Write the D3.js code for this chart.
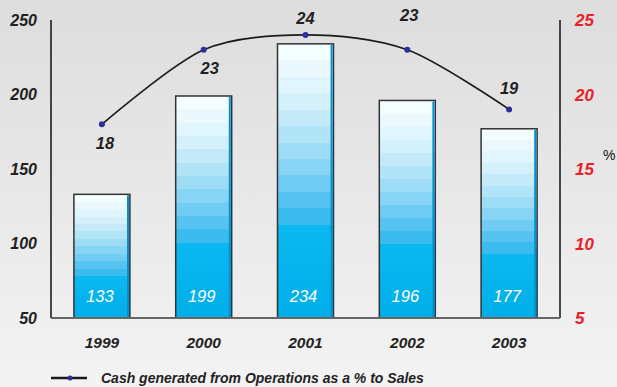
<!DOCTYPE html>
<html>
<head>
<meta charset="utf-8">
<script src="https://cdn.jsdelivr.net/npm/d3@7"></script>
<style>
  body { margin: 0; background: #e8e8e8; }
  svg { display: block; font-family: "Liberation Sans", Arial, sans-serif; }
</style>
</head>
<body>
<div id="chart"></div>
<script>
var years = ["1999", "2000", "2001", "2002", "2003"];
var cashValues = [133, 199, 234, 196, 177];
var pctValues = [18, 23, 24, 23, 19];
var leftTicks = [50, 100, 150, 200, 250];
var rightTicks = [5, 10, 15, 20, 25];
var legendText = "Cash generated from Operations as a % to Sales";

var W = 617, H = 387;
var margin = { top: 20, right: 57, bottom: 69, left: 51 },
    width = W - margin.left - margin.right,
    height = H - margin.top - margin.bottom;

var svg = d3.select("#chart").append("svg")
    .attr("width", W)
    .attr("height", H);

var defs = svg.append("defs");

// page background
var bg = defs.append("linearGradient")
    .attr("id", "bg")
    .attr("x1", 0).attr("y1", 0).attr("x2", 0).attr("y2", 1);
bg.append("stop").attr("offset", 0).attr("stop-color", "#dddddd");
bg.append("stop").attr("offset", 1).attr("stop-color", "#f3f3f3");

svg.append("rect")
    .attr("width", W)
    .attr("height", H)
    .attr("fill", "url(#bg)");

// stepped blue bar fill
var steps = ["#f4fdff", "#ebf9fe", "#e0f5fd", "#d3f0fb", "#c4eafa", "#b2e4f8",
             "#9edcf6", "#88d4f4", "#70ccf2", "#56c3f0", "#3cbcee"];
var barGrad = defs.append("linearGradient")
    .attr("id", "barFill")
    .attr("x1", 0).attr("y1", 0).attr("x2", 0).attr("y2", 1);
var solidStart = 0.66;
steps.forEach(function(c, i) {
    var a = i / steps.length * solidStart,
        b = (i + 1) / steps.length * solidStart;
    barGrad.append("stop").attr("offset", a).attr("stop-color", c);
    barGrad.append("stop").attr("offset", b).attr("stop-color", c);
});
barGrad.append("stop").attr("offset", solidStart).attr("stop-color", "#0bb8ef");
barGrad.append("stop").attr("offset", 1).attr("stop-color", "#00aee9");

var g = svg.append("g")
    .attr("transform", "translate(" + margin.left + "," + margin.top + ")");

// scales
var x = d3.scaleBand()
    .domain(years)
    .range([0, width])
    .paddingInner(0.45)
    .paddingOuter(0.225);

var y = d3.scaleLinear().domain([50, 250]).range([height, 0]);
var y2 = d3.scaleLinear().domain([5, 25]).range([height, 0]);

// bars
var bars = g.selectAll(".bar")
    .data(cashValues)
    .enter().append("g")
    .attr("class", "bar");

bars.append("rect")
    .attr("x", function(d, i) { return x(years[i]); })
    .attr("y", function(d) { return y(d); })
    .attr("width", x.bandwidth())
    .attr("height", function(d) { return height - y(d); })
    .attr("fill", "url(#barFill)")
    .attr("stroke", "#333")
    .attr("stroke-width", 1.5);

// blue edge on the right side of each bar
bars.append("line")
    .attr("x1", function(d, i) { return x(years[i]) + x.bandwidth() - 1.9; })
    .attr("x2", function(d, i) { return x(years[i]) + x.bandwidth() - 1.9; })
    .attr("y1", function(d) { return y(d) + 1; })
    .attr("y2", height)
    .attr("stroke", "#0092d6")
    .attr("stroke-width", 2);

bars.append("text")
    .attr("x", function(d, i) { return x(years[i]) + x.bandwidth() / 2 - 2; })
    .attr("y", height - 16)
    .attr("text-anchor", "middle")
    .attr("fill", "#fff")
    .style("font-size", "16.5px")
    .style("font-style", "italic")
    .text(function(d) { return d; });

// axis lines
g.append("line")
    .attr("x1", 0).attr("x2", 0)
    .attr("y1", 0).attr("y2", height)
    .attr("stroke", "#111").attr("stroke-width", 1.5);
g.append("line")
    .attr("x1", width).attr("x2", width)
    .attr("y1", 0).attr("y2", height)
    .attr("stroke", "#111").attr("stroke-width", 1.5);
g.append("line")
    .attr("x1", 0).attr("x2", width)
    .attr("y1", height).attr("y2", height)
    .attr("stroke", "#666").attr("stroke-width", 2);

// left axis labels
g.selectAll(".ly")
    .data(leftTicks)
    .enter().append("text")
    .attr("class", "ly")
    .attr("x", -14)
    .attr("y", function(d) { return y(d); })
    .attr("dy", "0.36em")
    .attr("text-anchor", "end")
    .attr("fill", "#222")
    .style("font-size", "16px")
    .style("font-weight", "bold")
    .style("font-style", "italic")
    .text(function(d) { return d; });

// right axis labels
g.selectAll(".ry")
    .data(rightTicks)
    .enter().append("text")
    .attr("class", "ry")
    .attr("x", width + 15)
    .attr("y", function(d) { return y2(d); })
    .attr("dy", "0.36em")
    .attr("fill", "#e8202a")
    .style("font-size", "17px")
    .style("font-weight", "bold")
    .style("font-style", "italic")
    .text(function(d) { return d; });

g.append("text")
    .attr("x", width + 43)
    .attr("y", 135)
    .attr("dy", "0.36em")
    .attr("fill", "#111")
    .style("font-size", "14px")
    .text("%");

// x axis labels
g.selectAll(".xl")
    .data(years)
    .enter().append("text")
    .attr("class", "xl")
    .attr("x", function(d) { return x(d) + x.bandwidth() / 2; })
    .attr("y", height + 24)
    .attr("dy", "0.36em")
    .attr("text-anchor", "middle")
    .attr("fill", "#222")
    .style("font-size", "15.5px")
    .style("font-weight", "bold")
    .style("font-style", "italic")
    .text(function(d) { return d; });

// percentage line
var px = function(i) { return x(years[i]) + x.bandwidth() / 2; };
var line = d3.line()
    .x(function(d, i) { return px(i); })
    .y(function(d) { return y2(d); })
    .curve(d3.curveCardinal.tension(0.1));

g.append("path")
    .datum(pctValues)
    .attr("d", line)
    .attr("fill", "none")
    .attr("stroke", "#1a1a1a")
    .attr("stroke-width", 1.6);

g.selectAll(".pt")
    .data(pctValues)
    .enter().append("circle")
    .attr("class", "pt")
    .attr("cx", function(d, i) { return px(i); })
    .attr("cy", function(d) { return y2(d); })
    .attr("r", 3)
    .attr("fill", "#2b2f9c");

// label offsets from each point (below/above)
var labelDy = [19, 18, -17, -35, -21];
var labelDx = [3, 6, 0, 2, 0];
g.selectAll(".pl")
    .data(pctValues)
    .enter().append("text")
    .attr("class", "pl")
    .attr("x", function(d, i) { return px(i) + labelDx[i]; })
    .attr("y", function(d, i) { return y2(d) + labelDy[i]; })
    .attr("dy", "0.36em")
    .attr("text-anchor", "middle")
    .attr("fill", "#222")
    .style("font-size", "16.5px")
    .style("font-weight", "bold")
    .style("font-style", "italic")
    .text(function(d) { return d; });

// legend
var lg = svg.append("g").attr("transform", "translate(51,378)");
lg.append("line")
    .attr("x1", 0).attr("x2", 36)
    .attr("y1", 0).attr("y2", 0)
    .attr("stroke", "#1a1a1a").attr("stroke-width", 2.5);
lg.append("circle")
    .attr("cx", 19).attr("cy", 0).attr("r", 2.5)
    .attr("fill", "#2b2f9c");
lg.append("text")
    .attr("x", 50)
    .attr("y", 0)
    .attr("dy", "0.36em")
    .attr("fill", "#222")
    .style("font-size", "14px")
    .style("font-weight", "bold")
    .style("font-style", "italic")
    .text(legendText);
</script>
</body>
</html>
